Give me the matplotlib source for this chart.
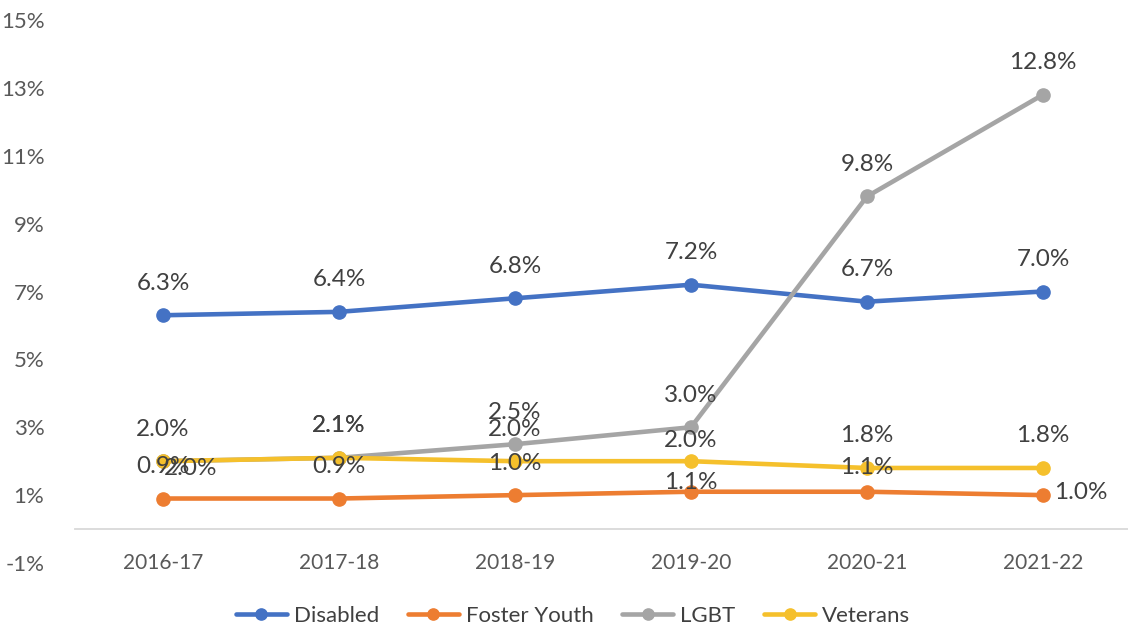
import matplotlib.pyplot as plt
from matplotlib.ticker import FuncFormatter

plt.rcParams['font.family'] = ['Lato', 'DejaVu Sans']

# Share of students by group, in percent
years = ['2016-17', '2017-18', '2018-19', '2019-20', '2020-21', '2021-22']
disabled = [6.3, 6.4, 6.8, 7.2, 6.7, 7.0]
foster_youth = [0.9, 0.9, 1.0, 1.1, 1.1, 1.0]
lgbt = [2.0, 2.1, 2.5, 3.0, 9.8, 12.8]
veterans = [2.0, 2.1, 2.0, 2.0, 1.8, 1.8]

series = [
    ('Disabled', disabled, '#4472C4'),
    ('Foster Youth', foster_youth, '#ED7D31'),
    ('LGBT', lgbt, '#A5A5A5'),
    ('Veterans', veterans, '#F5C02C'),
]

# label offsets in pixels (dx, dy); anything not listed sits straight above
label_shift = {
    ('Veterans', 0): (28, -7),
    ('Veterans', 3): (0, 21),
    ('Foster Youth', 3): (0, 9),
    ('Foster Youth', 4): (0, 24),
    ('Foster Youth', 5): (38, 3),
}

fig = plt.figure(figsize=(11.28, 6.32), dpi=100)
ax = fig.add_axes([75 / 1128, 69 / 632, 1056 / 1128, 543 / 632])

x = list(range(len(years)))
for name, vals, color in series:
    ax.plot(x, vals, color=color, lw=3.3, marker='o', ms=9.5,
            solid_capstyle='round', label=name, zorder=3)
    for i, v in enumerate(vals):
        dx, dy = label_shift.get((name, i), (0, 32))
        ax.annotate(f'{v:.1f}%', (i, v), xytext=(dx, dy),
                    textcoords='offset pixels', ha='center', va='center',
                    fontsize=17.5, color='#404040', zorder=4)

ax.set_xlim(-0.5, len(years) - 0.5)
ax.set_ylim(-1, 15)
ax.set_yticks(range(-1, 16, 2))
ax.yaxis.set_major_formatter(FuncFormatter(lambda v, p: f'{v:.0f}%'))
ax.set_xticks(x)
ax.set_xticklabels(years)

for side in ['top', 'right', 'left']:
    ax.spines[side].set_visible(False)
ax.spines['bottom'].set_position(('data', 0))
ax.spines['bottom'].set_color('#D9D9D9')
ax.spines['bottom'].set_linewidth(1.3)

ax.tick_params(axis='both', length=0, labelcolor='#595959')
ax.tick_params(axis='x', pad=17, labelsize=15)
ax.tick_params(axis='y', pad=22, labelsize=16)

leg = fig.legend(loc='center', bbox_to_anchor=(573 / 1128, 1 - 616 / 632),
                 ncol=4, frameon=False, fontsize=16, handlelength=2.3,
                 handletextpad=0.3, columnspacing=1.3, labelcolor='#404040',
                 markerscale=0.85)

fig.savefig('out.png', dpi=100)
